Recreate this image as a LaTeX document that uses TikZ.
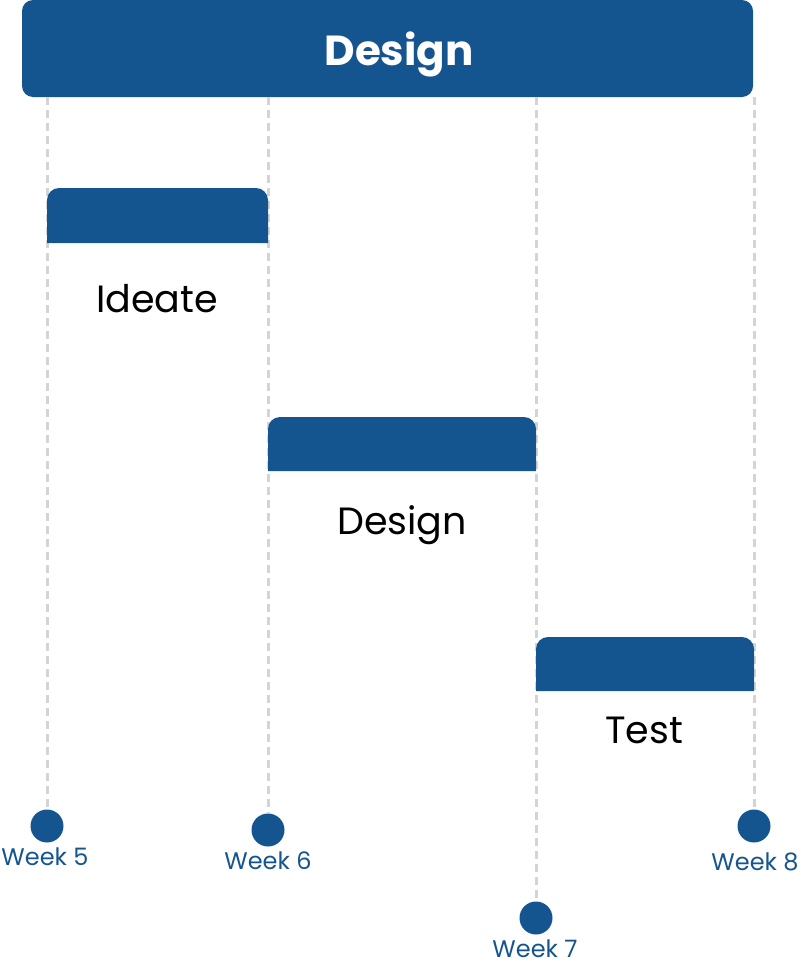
\documentclass[tikz,border=0pt]{standalone}
\usepackage{fontspec}
\setmainfont{Poppins}
\definecolor{barblue}{HTML}{15558F}
\definecolor{guidegray}{HTML}{D4D4D4}
\tikzset{
  bar/.style={fill=barblue},
  guide/.style={guidegray,line width=3pt,dash pattern=on 8pt off 5pt},
  milestone/.style={circle,fill=barblue,minimum size=33pt,inner sep=0pt},
  weeklabel/.style={text=barblue,font=\fontsize{24}{24}\selectfont,inner sep=0pt,anchor=base},
  tasklabel/.style={text=black,font=\fontsize{38}{38}\selectfont,inner sep=0pt,anchor=base}
}
\begin{document}
\begin{tikzpicture}[x=1pt,y=-1pt]
  \useasboundingbox (0,0) rectangle (801,964);

  % Phase banner
  \node[bar,rounded corners=11pt,minimum width=731pt,minimum height=97pt] (banner) at (387.5,48.5) {};
  \node[text=white,font=\fontsize{42}{42}\selectfont\bfseries,inner sep=0pt,anchor=base] (title) at (399,65) {Design};

  % Milestones
  \node[milestone] (w5) at (47,826) {};
  \node[milestone] (w6) at (268,830) {};
  \node[milestone] (w7) at (536,918) {};
  \node[milestone] (w8) at (754,826) {};
  \node[weeklabel] (l5) at (45,865) {Week 5};
  \node[weeklabel] (l6) at (268,869) {Week 6};
  \node[weeklabel] (l7) at (535,957) {Week 7};
  \node[weeklabel] (l8) at (755,870) {Week 8};

  % Guide lines
  \foreach \w in {w5,w6,w7,w8}
    \draw[guide] (banner.south -| \w) -- (\w.north);

  % Task bars
  \fill[bar] (47,243) [rounded corners=12pt] -- (47,188) -- (268,188) [sharp corners] -- (268,243) -- cycle;
  \fill[bar] (268,471) [rounded corners=12pt] -- (268,417) -- (536,417) [sharp corners] -- (536,471) -- cycle;
  \fill[bar] (536,691) [rounded corners=12pt] -- (536,637) -- (754,637) [sharp corners] -- (754,691) -- cycle;

  % Task labels
  \node[tasklabel] (ideate) at (157,312) {Ideate};
  \node[tasklabel] (design) at (402,534) {Design};
  \node[tasklabel] (test) at (644,743) {Test};
\end{tikzpicture}
\end{document}
